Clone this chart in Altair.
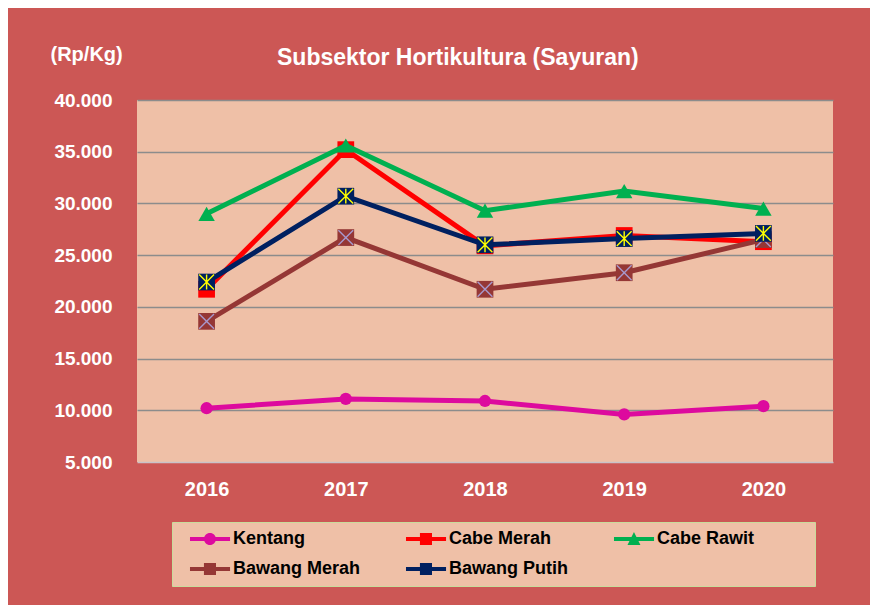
import altair as alt
import pandas as pd

# ---------------- data ----------------
years = ["2016", "2017", "2018", "2019", "2020"]
series = ["Kentang", "Cabe Merah", "Cabe Rawit", "Bawang Merah", "Bawang Putih"]
kentang = [10200, 11100, 10900, 9600, 10400]
cabe_merah = [21700, 35200, 25900, 26900, 26300]
cabe_rawit = [29000, 35600, 29300, 31200, 29500]
bawang_merah = [18600, 26700, 21700, 23300, 26500]
bawang_putih = [22400, 30700, 26000, 26600, 27100]
y_ticks = [5000, 10000, 15000, 20000, 25000, 30000, 35000, 40000]

all_values = [kentang, cabe_merah, cabe_rawit, bawang_merah, bawang_putih]
df = pd.DataFrame(
    [{"year": y, "series": s, "value": v}
     for s, vals in zip(series, all_values)
     for y, v in zip(years, vals)]
)

# ---------------- styles ----------------
FONT = "Liberation Sans"
BG = "#CC5755"
PLOT_BG = "#EFC0A7"
line_colors = ["#DD0A9E", "#FF0000", "#00B050", "#953735", "#002060"]
marker_shapes = ["circle", "square", "triangle-up", "square", "square"]
marker_sizes = [150, 280, 270, 280, 280]
glyphs = [None, None, None,
          ("M-1,-1L1,1M1,-1L-1,1", "#A898CC"),
          ("M-1,-1L1,1M1,-1L-1,1M0,-1L0,1", "#FFFF00")]

LINE = "M0.11,-0.22H4.56V0.22H0.11Z"
legend_paths = [
    LINE + "M1.66,0A0.67,0.67,0,1,1,3,0A0.67,0.67,0,1,1,1.66,0Z",
    LINE + "M1.66,-0.67H3V0.67H1.66Z",
    LINE + "M2.33,-0.78L3.05,0.67H1.61Z",
    LINE + "M1.66,-0.67H3V0.67H1.66Z",
    LINE + "M1.66,-0.67H3V0.67H1.66Z",
]

BLANK = "\u2800"  # blank (non-whitespace) glyph, only widens the last legend column
label_expr = (
    "indexof(datum.label, 'Rawit') >= 0 ? datum.label + '" + BLANK * 4 + "' : datum.label"
)

x_enc = alt.X(
    "year:O", sort=years, title=None,
    scale=alt.Scale(type="point", padding=0.5),
    axis=alt.Axis(labelAngle=0, labelPadding=17, labelFontSize=20,
                  labelFont=FONT, labelFontWeight="bold", labelColor="white",
                  grid=False, domain=False, ticks=False),
)
y_enc = alt.Y(
    "value:Q",
    scale=alt.Scale(domain=[5000, 40000], nice=False, zero=False),
    axis=alt.Axis(
        values=y_ticks, labelExpr="replace(format(datum.value, ',.0f'), ',', '.')",
        labelPadding=25, tickSize=0, ticks=False, domain=False,
        labelFontSize=19, labelFont=FONT, labelFontWeight="bold", labelColor="white",
        grid=True,
        gridColor={"condition": {"test": "datum.value == 5000", "value": "#C9C2C8"},
                   "value": "#8C8C8C"},
        gridWidth=1.5,
        title="(Rp/Kg)", titleAngle=0, titleAlign="left", titleBaseline="middle",
        titleX=-87, titleY=-46, titleFontSize=20, titleFont=FONT,
        titleFontWeight="bold", titleColor="white",
    ),
)

layers = []
for i, s in enumerate(series):
    base = alt.Chart(df).transform_filter(alt.datum.series == s)
    layers.append(
        base.mark_line(color=line_colors[i], strokeWidth=5).encode(x=x_enc, y=y_enc)
    )
    layers.append(
        base.mark_point(shape=marker_shapes[i], size=marker_sizes[i], filled=True,
                        fill=line_colors[i], strokeWidth=0, opacity=1)
        .encode(x=x_enc, y=y_enc)
    )
    if glyphs[i] is not None:
        path, col = glyphs[i]
        layers.append(
            base.mark_point(shape=path, size=220, filled=False, stroke=col,
                            strokeWidth=1.4, opacity=1)
            .encode(x=x_enc, y=y_enc)
        )

legend_def = alt.Legend(
    title=None, orient="none", legendX=35, legendY=422,
    direction="horizontal", columns=3, gridAlign="each",
    columnPadding=35, rowPadding=12, padding=8,
    fillColor=PLOT_BG, strokeColor="#C8DC9C",
    symbolSize=324, symbolStrokeWidth=0, symbolOpacity=1,
    labelFont=FONT, labelFontSize=18, labelFontWeight="bold", labelColor="black",
    labelOffset=35, labelLimit=400, labelExpr=label_expr,
)
legend_layer = alt.Chart(df).mark_point(filled=True, clip=True, opacity=1, size=324).encode(
    x=x_enc,
    y=alt.value(-400),
    color=alt.Color("series:N", sort=series,
                    scale=alt.Scale(domain=series, range=line_colors), legend=legend_def),
    shape=alt.Shape("series:N", sort=series,
                    scale=alt.Scale(domain=series, range=legend_paths), legend=legend_def),
)

chart = (
    alt.layer(*layers, legend_layer)
    .properties(
        width=696, height=362,
        padding={"left": 129, "top": 92, "right": 37, "bottom": 143},
        autosize=alt.AutoSizeParams(type="none"),
        background=BG,
        title=alt.TitleParams(
            "Subsektor Hortikultura (Sayuran)", anchor="start", frame="group",
            dx=140, dy=30, fontSize=23, font=FONT, fontWeight="bold", color="white",
        ),
    )
    .configure_view(fill=PLOT_BG, stroke=None)
)

chart.save("out.html", embed_options={"renderer": "svg", "actions": False})
